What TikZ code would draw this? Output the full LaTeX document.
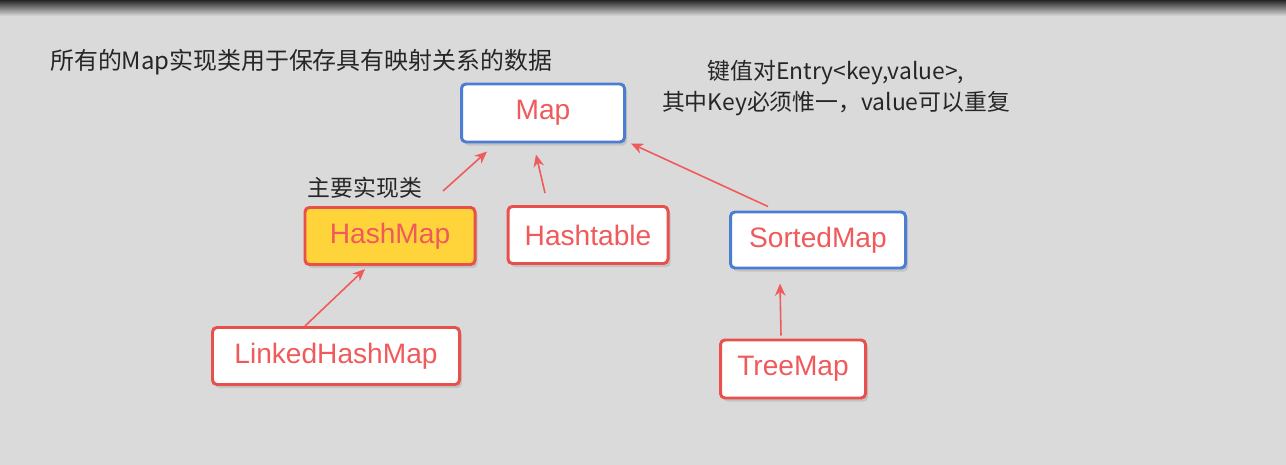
\documentclass[tikz,border=0pt]{standalone}
\usepackage{fontspec}
\setmainfont{Liberation Sans}
\newfontfamily\cjk{Noto Sans CJK SC}
\usetikzlibrary{shadows,arrows.meta}
\definecolor{bgray}{HTML}{DADADA}
\definecolor{boxred}{HTML}{E8504C}
\definecolor{boxblue}{HTML}{4D7DD2}
\definecolor{boxyellow}{HTML}{FFD43B}
\definecolor{txtred}{HTML}{F05A5A}
\tikzset{
  cls/.style={rectangle, rounded corners=2.5pt, draw=boxred, line width=1.7pt,
    fill=white, text=txtred, font=\fontsize{16}{18}\selectfont,
    inner sep=0pt, drop shadow={opacity=0.25, shadow xshift=1.5pt, shadow yshift=-2pt}},
  iface/.style={cls, draw=boxblue},
  inherit/.style={draw=txtred, line width=0.9pt, -{Stealth[length=7pt,width=6pt]}},
  note/.style={font=\cjk\fontsize{13}{18}\selectfont, text=black!85}
}
\begin{document}
\begin{tikzpicture}
  \useasboundingbox (0,0) rectangle (25.72,-9.3);
  \fill[bgray] (0,0) rectangle (25.72,-9.3);
  \shade[top color=black!85, bottom color=bgray] (0,0) rectangle (25.72,-0.32);

  \node[iface, minimum width=3.26cm, minimum height=1.16cm] (map) at (10.86,-2.26) {Map};
  \node[cls, fill=boxyellow, minimum width=3.4cm, minimum height=1.14cm] (hashmap) at (7.8,-4.72) {HashMap};
  \node[cls, minimum width=3.2cm, minimum height=1.14cm] (hashtable) at (11.76,-4.7) {Hashtable};
  \node[iface, minimum width=3.5cm, minimum height=1.12cm] (sortedmap) at (16.36,-4.8) {SortedMap};
  \node[cls, minimum width=4.94cm, minimum height=1.14cm] (linked) at (6.72,-7.12) {LinkedHashMap};
  \node[cls, minimum width=2.9cm, minimum height=1.16cm] (treemap) at (15.86,-7.38) {TreeMap};

  \node[note, anchor=west, font=\cjk\fontsize{13.6}{18}\selectfont] (allmaps) at (0.88,-1.24) {所有的Map实现类用于保存具有映射关系的数据};
  \node[note] (mainimpl) at (7.3,-3.76) {主要实现类};
  \node[note, align=center] (entry) at (16.72,-1.76) {键值对Entry<key,value>,\\其中Key必须惟一，value可以重复};

  % inheritance arrows
  \draw[inherit] ([xshift=1.06cm,yshift=0.3cm]hashmap.north) -- ([xshift=-1.12cm,yshift=-0.16cm]map.south);
  \draw[inherit] ([xshift=-0.86cm,yshift=0.24cm]hashtable.north) -- ([xshift=-0.14cm,yshift=-0.22cm]map.south);
  \draw[inherit] ([xshift=0.78cm,yshift=0.08cm]sortedmap.north west) -- ([xshift=0.1cm]map.south east);
  \draw[inherit] ([xshift=-0.62cm]linked.north) -- ([xshift=-0.5cm,yshift=-0.06cm]hashmap.south);
  \draw[inherit] ([xshift=-0.24cm,yshift=0.06cm]treemap.north) -- ([xshift=-0.76cm,yshift=-0.28cm]sortedmap.south);
\end{tikzpicture}
\end{document}
